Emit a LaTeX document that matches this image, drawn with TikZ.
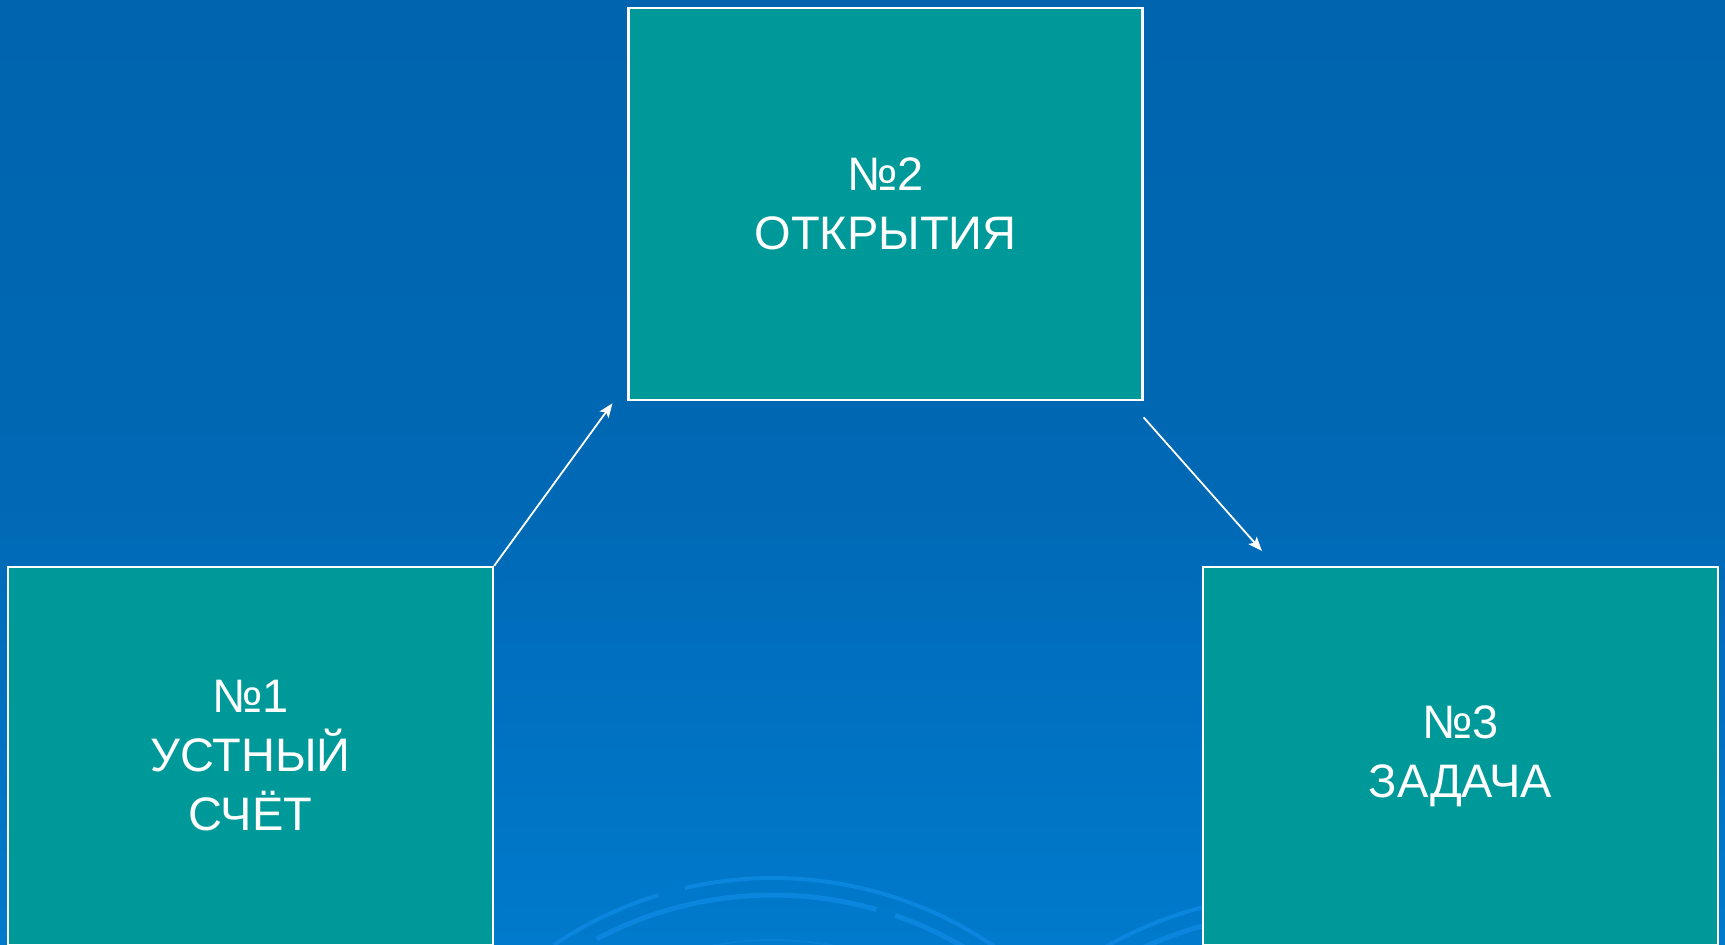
\documentclass[tikz,border=0pt]{standalone}
\usepackage{fontspec}
\setmainfont{Liberation Sans}
\usetikzlibrary{arrows.meta,calc}
\definecolor{bgtop}{RGB}{0,100,174}
\definecolor{bgmid}{RGB}{0,104,180}
\definecolor{bgbot}{RGB}{0,122,204}
\definecolor{teal}{RGB}{0,153,153}
\definecolor{ring}{RGB}{10,134,222}
\begin{document}
\begin{tikzpicture}[x=1pt,y=-1pt,
  box/.style={draw=white,line width=2.2pt,fill=teal,inner sep=0pt,
    text=white,align=center,font=\fontsize{47}{59}\selectfont},
  link/.style={draw=white,line width=1.8pt,-{Stealth[length=14pt,width=11pt,inset=3pt]}},
  ringline/.style={draw=ring,line width=4pt}]
\shade[top color=bgtop,bottom color=bgbot,middle color=bgmid] (0,0) rectangle (1725,945);
\useasboundingbox (0,0) rectangle (1725,945);
\begin{scope}
\clip (0,0) rectangle (1725,945);
% decorative rings
\draw[ringline] ($(773,1270)+(236:392)$) arc (236:253:392);
\draw[ringline] ($(773,1270)+(257:392)$) arc (257:310:392);
\draw[ringline,line width=5pt] ($(773,1270)+(242:375)$) arc (242:286:375);
\draw[ringline,line width=5pt] ($(773,1270)+(289:375)$) arc (289:305:375);
\draw[ringline,line width=2pt,opacity=0.5] ($(773,1270)+(250:330)$) arc (250:290:330);
\draw[ringline] ($(1300,1285)+(238:390)$) arc (238:300:390);
\draw[ringline,line width=5pt] ($(1300,1285)+(236:372)$) arc (236:300:372);
\end{scope}
\node[box,minimum width=514pt,minimum height=392.5pt] (b2) at (885.5,204) {№2\\ОТКРЫТИЯ};
\node[box,minimum width=485pt,minimum height=378pt] (b1) at (250.5,756) {№1\\УСТНЫЙ\\СЧЁТ};
\node[box,minimum width=515pt,minimum height=378pt] (b3) at (1460.5,756) {№3\\ЗАДАЧА};
\draw[link] (b1.north east) -- ($(b2.south west)+(-15,2)$);
\draw[link] ($(b2.south east)+(0,16)$) -- ($(b3.north west)+(60,-15)$);
\end{tikzpicture}
\end{document}
